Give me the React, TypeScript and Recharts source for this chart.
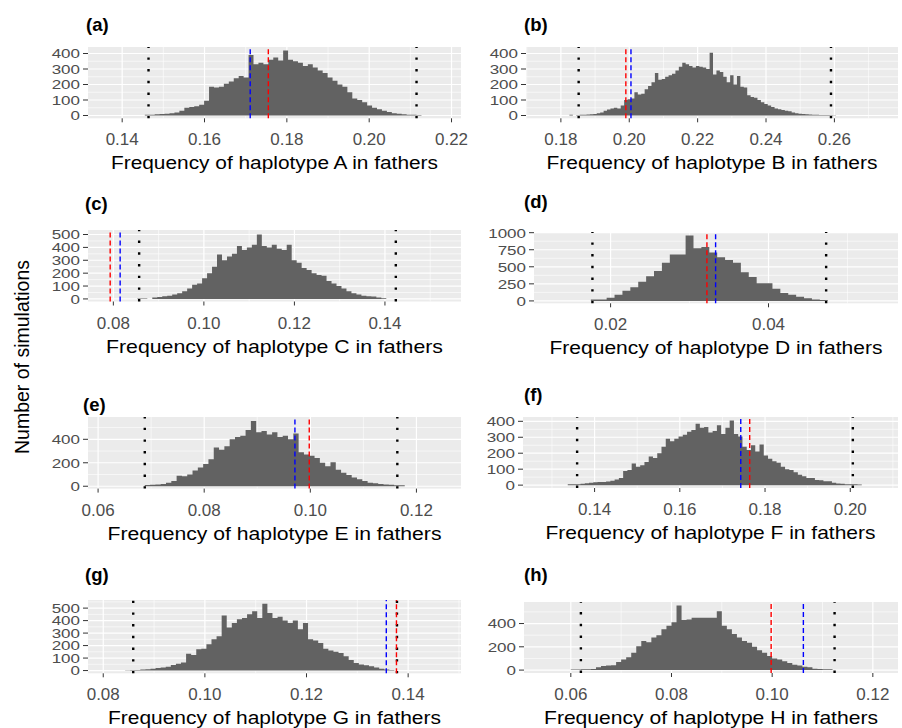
import React from 'react';
import { ComposedChart, Area, XAxis, YAxis, CartesianGrid, ReferenceLine } from 'recharts';

// Histogram counts per bin (bins are equal width)
const countsA = [5, 5, 8, 10, 12, 15, 20, 30, 50, 55, 60, 70, 95, 185, 180, 185, 205, 220, 240, 255, 245, 390, 330, 340, 330, 360, 375, 355, 420, 360, 350, 340, 320, 330, 310, 290, 275, 245, 225, 200, 185, 150, 110, 100, 85, 65, 50, 40, 30, 22, 15, 12, 8, 5, 5, 3];
const countsB = [5, 0, 3, 5, 5, 6, 8, 10, 15, 20, 30, 38, 45, 50, 45, 65, 100, 105, 110, 150, 135, 140, 170, 190, 215, 275, 230, 235, 250, 260, 270, 290, 315, 340, 330, 320, 310, 320, 315, 310, 300, 405, 265, 290, 280, 250, 215, 260, 200, 255, 185, 180, 130, 120, 115, 100, 85, 75, 65, 55, 45, 40, 35, 30, 28, 20, 15, 12, 10, 8, 6, 5, 5, 4, 4, 3, 3, 2];
const countsC = [4, 4, 0, 12, 15, 20, 25, 35, 45, 60, 80, 110, 120, 160, 200, 250, 345, 300, 330, 350, 410, 380, 400, 420, 500, 410, 400, 420, 390, 380, 420, 300, 280, 240, 225, 200, 185, 180, 140, 120, 100, 80, 60, 45, 35, 25, 20, 18, 12, 5];
const countsD = [20, 20, 45, 90, 150, 200, 280, 360, 440, 560, 680, 680, 960, 770, 790, 710, 640, 600, 560, 420, 350, 260, 260, 180, 115, 90, 60, 40, 20, 15];
const countsE = [10, 12, 15, 20, 30, 45, 90, 85, 100, 135, 160, 190, 230, 330, 310, 340, 400, 420, 430, 480, 555, 460, 470, 440, 460, 420, 430, 400, 450, 290, 270, 260, 240, 200, 170, 205, 140, 115, 95, 75, 60, 45, 30, 25, 20, 15, 12, 8, 8];
const countsF = [5, 5, 6, 8, 12, 15, 18, 20, 20, 22, 28, 35, 45, 88, 95, 135, 115, 125, 145, 180, 170, 200, 240, 290, 275, 290, 305, 315, 335, 345, 385, 360, 365, 330, 340, 375, 320, 360, 405, 320, 305, 240, 220, 250, 210, 255, 185, 165, 150, 140, 115, 100, 95, 80, 65, 55, 45, 45, 32, 30, 25, 25, 15, 10, 8, 6, 5, 5, 4];
const countsG = [3, 4, 5, 8, 10, 15, 20, 25, 30, 45, 55, 65, 135, 125, 170, 175, 210, 250, 275, 440, 345, 380, 410, 420, 450, 475, 420, 535, 460, 420, 430, 400, 380, 400, 330, 380, 250, 240, 220, 175, 160, 150, 140, 115, 85, 60, 48, 42, 35, 25, 15, 8, 5];
const countsH = [5, 5, 8, 8, 10, 25, 35, 40, 42, 70, 90, 110, 150, 205, 250, 240, 280, 300, 350, 380, 410, 555, 430, 435, 450, 450, 450, 450, 450, 505, 380, 350, 310, 280, 250, 235, 200, 170, 150, 120, 100, 90, 75, 60, 45, 40, 28, 25, 12, 10, 8, 8];

// first bin edge and bin width
const binStarts = [0.1455, 0.1825, 0.0853, 0.0175, 0.0688, 0.1337, 0.0843, 0.060];
const binWidths = [0.0012, 0.001, 0.0011, 0.001, 0.001, 0.001, 0.001, 0.001];

// vertical lines: dotted interval limits, blue and red dashed
const dottedLo = [0.1464, 0.1852, 0.0857, 0.0177, 0.0688, 0.1359, 0.0859, 0.0620];
const dottedHi = [0.2115, 0.2590, 0.1424, 0.0473, 0.1164, 0.2006, 0.1378, 0.1124];
const blueLine = [0.1711, 0.2005, 0.0815, 0.0333, 0.0971, 0.1743, 0.1357, 0.1062];
const redLine = [0.1755, 0.1990, 0.0793, 0.0322, 0.0998, 0.1764, 0.1377, 0.0998];

const panelLetters = ['A', 'B', 'C', 'D', 'E', 'F', 'G', 'H'];
const panelTags = ['(a)', '(b)', '(c)', '(d)', '(e)', '(f)', '(g)', '(h)'];

const xTicks = [
  [0.14, 0.16, 0.18, 0.2, 0.22],
  [0.18, 0.2, 0.22, 0.24, 0.26],
  [0.08, 0.1, 0.12, 0.14],
  [0.02, 0.04],
  [0.06, 0.08, 0.1, 0.12],
  [0.14, 0.16, 0.18, 0.2],
  [0.08, 0.1, 0.12, 0.14],
  [0.06, 0.08, 0.1, 0.12],
];
const xMinor = [
  [0.15, 0.17, 0.19, 0.21],
  [0.17, 0.19, 0.21, 0.23, 0.25, 0.27],
  [0.09, 0.11, 0.13, 0.15],
  [0.03, 0.05],
  [0.07, 0.09, 0.11],
  [0.13, 0.15, 0.17, 0.19, 0.21],
  [0.09, 0.11, 0.13, 0.15],
  [0.07, 0.09, 0.11],
];
const yTicks = [
  [0, 100, 200, 300, 400],
  [0, 100, 200, 300, 400],
  [0, 100, 200, 300, 400, 500],
  [0, 250, 500, 750, 1000],
  [0, 200, 400],
  [0, 100, 200, 300, 400],
  [0, 100, 200, 300, 400, 500],
  [0, 200, 400],
];
const yMinor = [
  [50, 150, 250, 350],
  [50, 150, 250, 350],
  [50, 150, 250, 350, 450],
  [125, 375, 625, 875],
  [100, 300, 500],
  [50, 150, 250, 350],
  [50, 150, 250, 350, 450, 550],
  [100, 300, 500],
];

const xDomains: [number, number][] = [
  [0.1317, 0.2223], [0.1698, 0.2786], [0.0744, 0.1568], [0.0103, 0.0564],
  [0.0581, 0.1284], [0.1232, 0.2112], [0.077, 0.1504], [0.0507, 0.125],
];
const yDomains: [number, number][] = [
  [-18, 442], [-18, 442], [-20, 535], [-35, 1010],
  [-20, 590], [-18, 427], [-22, 565], [-25, 585],
];

const allCounts = [countsA, countsB, countsC, countsD, countsE, countsF, countsG, countsH];

// page layout: plot rectangles, tag positions, title widths
const plotRects = [
  { x0: 88, y0: 47, x1: 461, y1: 118.3 },
  { x0: 526, y0: 47, x1: 898, y1: 118.3 },
  { x0: 88, y0: 230, x1: 461, y1: 301.5 },
  { x0: 534, y0: 231.7, x1: 898, y1: 303 },
  { x0: 88, y0: 416.7, x1: 461, y1: 488.3 },
  { x0: 523, y0: 416.7, x1: 898, y1: 487.7 },
  { x0: 88, y0: 600, x1: 461, y1: 673.3 },
  { x0: 524, y0: 602.3, x1: 898, y1: 673.3 },
];
const tagPos = [
  { x: 86, y: 25 }, { x: 524, y: 25 }, { x: 85, y: 204 }, { x: 524, y: 202 },
  { x: 83, y: 405 }, { x: 524, y: 395 }, { x: 85, y: 575 }, { x: 524, y: 575 },
];
const titleWidths = [327, 331, 337, 333, 334, 330, 333, 334];

const FONT = '"Liberation Sans", Arial, sans-serif';
const YW = 60;
const MT = 14;
const MR = 26;
const XH = 64;

const AxisTitle = (props: any) => {
  const { viewBox, text, len } = props;
  if (!viewBox) return null;
  return (
    <text
      x={viewBox.x + viewBox.width / 2}
      y={viewBox.y + 51}
      textAnchor="middle"
      fontSize={18.5}
      fontFamily={FONT}
      fill="#000000"
      textLength={len}
      lengthAdjust="spacingAndGlyphs"
    >
      {text}
    </text>
  );
};

// the source figure was squeezed vertically, so the y labels look squat
const SquatTick = (props: any) => {
  const { x, y, payload } = props;
  return (
    <text
      x={x}
      y={y}
      dy="0.355em"
      textAnchor="end"
      fontSize={17}
      fontFamily={FONT}
      fill="#4D4D4D"
      transform={`translate(0 ${y}) scale(1 0.8) translate(0 ${-y})`}
    >
      {payload.value}
    </text>
  );
};

function Panel({ i }: { i: number }) {
  const r = plotRects[i];
  const counts = allCounts[i];
  const data = counts.map((n, k) => ({ x: binStarts[i] + k * binWidths[i], n }));
  data.push({ x: binStarts[i] + counts.length * binWidths[i], n: counts[counts.length - 1] });
  const w = r.x1 - r.x0;
  const h = r.y1 - r.y0;

  return (
    <div style={{ position: 'absolute', left: r.x0 - YW, top: r.y0 - MT }}>
      <ComposedChart
        width={w + YW + MR}
        height={h + MT + XH}
        data={data}
        margin={{ top: MT, right: MR, bottom: 0, left: 0 }}
      >
        <CartesianGrid
          fill="#EBEBEB"
          fillOpacity={1}
          stroke="#FFFFFF"
          strokeWidth={0.6}
          verticalValues={xMinor[i]}
          horizontalValues={yMinor[i]}
        />
        <CartesianGrid
          stroke="#FFFFFF"
          strokeWidth={1.2}
          verticalValues={xTicks[i]}
          horizontalValues={yTicks[i]}
        />
        <XAxis
          type="number"
          dataKey="x"
          domain={xDomains[i]}
          ticks={xTicks[i]}
          allowDataOverflow
          interval={0}
          height={XH}
          tickSize={4}
          tickMargin={11}
          axisLine={false}
          tickLine={{ stroke: '#333333' }}
          tick={{ fill: '#4D4D4D', fontSize: 17, fontFamily: FONT }}
          tickFormatter={(v: number) => v.toFixed(2)}
          label={<AxisTitle text={`Frequency of haplotype ${panelLetters[i]} in fathers`} len={titleWidths[i]} />}
        />
        <YAxis
          type="number"
          domain={yDomains[i]}
          ticks={yTicks[i]}
          allowDataOverflow
          interval={0}
          width={YW}
          tickSize={5}
          tickMargin={3}
          axisLine={false}
          tickLine={{ stroke: '#333333' }}
          tick={<SquatTick />}
        />
        <Area
          type="stepAfter"
          dataKey="n"
          baseValue={0}
          fill="#626262"
          fillOpacity={1}
          stroke="none"
          dot={false}
          activeDot={false}
          isAnimationActive={false}
        />
        <ReferenceLine x={dottedLo[i]} stroke="#000000" strokeWidth={2.4} strokeDasharray="2.4 9.3" />
        <ReferenceLine x={dottedHi[i]} stroke="#000000" strokeWidth={2.4} strokeDasharray="2.4 9.3" />
        <ReferenceLine x={blueLine[i]} stroke="#0000FF" strokeWidth={1.4} strokeDasharray="5 3" />
        <ReferenceLine x={redLine[i]} stroke="#FF0000" strokeWidth={1.4} strokeDasharray="5 3" />
      </ComposedChart>
      <div
        style={{
          position: 'absolute',
          left: tagPos[i].x - (r.x0 - YW),
          top: tagPos[i].y - (r.y0 - MT) - 11,
          fontFamily: FONT,
          fontWeight: 'bold',
          fontSize: 18.5,
          lineHeight: '22px',
          color: '#000',
        }}
      >
        {panelTags[i]}
      </div>
    </div>
  );
}

export default function App() {
  return (
    <div style={{ position: 'absolute', left: 0, top: 0, width: 902, height: 728, background: '#FFFFFF', overflow: 'hidden' }}>
      {allCounts.map((_, i) => (
        <Panel key={i} i={i} />
      ))}
      <div
        style={{
          position: 'absolute',
          left: 22,
          top: 357,
          transform: 'translate(-50%, -50%) rotate(-90deg)',
          whiteSpace: 'nowrap',
          fontFamily: FONT,
          fontSize: 19.5,
          color: '#000',
        }}
      >
        Number of simulations
      </div>
    </div>
  );
}
